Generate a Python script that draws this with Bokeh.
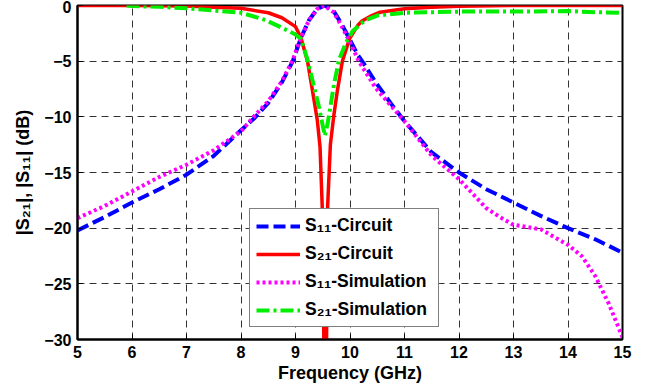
from bokeh.plotting import figure
from bokeh.embed import file_html
from bokeh.resources import INLINE
from bokeh.models import FixedTicker, Legend

# ---- data ----
f_s11c = [5.0, 5.5, 6.0, 6.5, 7.0, 7.5, 8.0, 8.25, 8.5, 8.75, 8.95, 9.1, 9.25, 9.4, 9.54,
          9.7, 9.85, 10.0, 10.15, 10.25, 10.47, 10.75, 11.0, 11.5, 12.0, 12.5, 13.0, 13.5,
          14.0, 14.5, 15.0]
s11_circuit = [-20.2, -19.0, -17.7, -16.5, -15.2, -13.5, -11.2, -10.1, -8.75, -6.9, -5.0, -2.9,
               -1.3, -0.3, 0.0, -0.5, -1.7, -3.1, -4.5, -5.2, -6.9, -8.8, -10.4, -13.2, -15.0,
               -16.5, -17.7, -18.9, -20.0, -21.0, -22.2]

f_s21c = [5.0, 6.0, 7.0, 7.5, 8.0, 8.5, 8.75, 9.0, 9.1, 9.22, 9.31, 9.4, 9.45, 9.49, 9.52,
          9.545, 9.57, 9.59, 9.64, 9.7, 9.77, 9.86, 9.99, 10.14, 10.22, 10.4, 10.55, 11.0,
          11.5, 12.0, 13.0, 15.0]
s21_circuit = [0.0, 0.0, -0.05, -0.15, -0.25, -0.65, -1.1, -1.9, -2.9, -5.0, -7.6, -10.3,
               -12.7, -18.0, -30.0, -45.0, -30.0, -18.0, -12.5, -10.0, -7.6, -5.0, -3.0, -1.8,
               -1.4, -0.9, -0.6, -0.3, -0.15, -0.06, 0.0, 0.0]

f_s11s = [5.0, 5.5, 6.0, 6.5, 7.0, 7.5, 8.0, 8.25, 8.5, 8.75, 8.95, 9.1, 9.25, 9.4, 9.52,
          9.7, 9.85, 10.0, 10.16, 10.47, 10.75, 11.0, 11.5, 12.0, 12.5, 12.75, 13.0, 13.5,
          14.0, 14.25, 14.5, 14.75, 15.0]
s11_sim = [-19.1, -18.0, -16.7, -15.4, -14.3, -13.0, -11.3, -9.9, -8.6, -6.8, -4.9, -2.9,
           -1.3, -0.3, 0.0, -0.6, -1.9, -3.3, -5.0, -7.4, -9.0, -10.4, -13.5, -15.6, -18.2,
           -19.0, -19.7, -20.1, -21.5, -22.5, -24.3, -26.8, -29.8]

f_s21s = [5.9, 6.0, 6.5, 7.0, 7.5, 8.0, 8.45, 8.75, 9.0, 9.1, 9.22, 9.34, 9.43, 9.5, 9.54,
          9.59, 9.65, 9.71, 9.8, 9.93, 10.05, 10.27, 10.5, 11.0, 12.0, 13.0, 14.0, 14.5, 15.0]
s21_sim = [0.0, -0.05, -0.12, -0.25, -0.45, -0.65, -1.3, -2.0, -2.6, -3.0, -4.85, -7.3,
           -9.1, -10.8, -11.7, -10.6, -8.8, -7.0, -4.85, -3.3, -2.3, -1.35, -0.9, -0.65,
           -0.55, -0.55, -0.5, -0.6, -0.65]

x_ticks = [5, 6, 7, 8, 9, 10, 11, 12, 13, 14, 15]
y_ticks = [-30, -25, -20, -15, -10, -5, 0]

FONT = "Liberation Sans"

p = figure(width=646, height=388, x_range=(5, 15), y_range=(-30, 0),
           output_backend="svg", toolbar_location=None,
           min_border_left=77, min_border_right=24, min_border_top=5, min_border_bottom=49)

p.outline_line_color = "black"
p.outline_line_width = 2
p.background_fill_color = "white"

for ax in (p.xaxis[0], p.yaxis[0]):
    ax.axis_line_width = 2
    ax.axis_line_color = "black"
    ax.major_tick_in = 5
    ax.major_tick_out = 0
    ax.major_tick_line_width = 1
    ax.minor_tick_line_color = None
    ax.major_label_text_font = FONT
    ax.major_label_text_font_style = "bold"
    ax.major_label_text_font_size = "16px"
    ax.major_label_text_color = "black"
    ax.axis_label_text_font = FONT
    ax.axis_label_text_font_style = "bold"
    ax.axis_label_text_font_size = "18px"
    ax.axis_label_text_color = "black"

p.xaxis[0].ticker = FixedTicker(ticks=x_ticks)
p.yaxis[0].ticker = FixedTicker(ticks=y_ticks)
p.xaxis[0].axis_label = "Frequency (GHz)"
p.yaxis[0].axis_label = "|S₂₁|, |S₁₁| (dB)"
p.xaxis[0].major_label_standoff = 6
p.xaxis[0].axis_label_standoff = 2
p.yaxis[0].major_label_standoff = 6
p.yaxis[0].axis_label_standoff = 8

for g in (p.xgrid[0], p.ygrid[0]):
    g.grid_line_color = "#333333"
    g.grid_line_width = 1
    g.grid_line_dash = "7 5"

r1 = p.line(f_s11c, s11_circuit, line_color="#0000ff", line_width=4, line_dash="12 5")
r2 = p.line(f_s21c, s21_circuit, line_color="#ff0000", line_width=3.5)
r3 = p.line(f_s11s, s11_sim, line_color="#ff00ff", line_width=4, line_dash="3 3")
r4 = p.line(f_s21s, s21_sim, line_color="#00ee00", line_width=4, line_dash="13 4 3 4")

legend = Legend(items=[("S₁₁-Circuit", [r1]), ("S₂₁-Circuit", [r2]),
                       ("S₁₁-Simulation", [r3]), ("S₂₁-Simulation", [r4])],
                location=(172, 12))
legend.label_text_font = FONT
legend.label_text_font_style = "bold"
legend.label_text_font_size = "17.5px"
legend.label_text_color = "black"
legend.glyph_width = 44
legend.glyph_height = 18
legend.label_height = 18
legend.label_width = 127
legend.label_standoff = 5
legend.spacing = 7
legend.padding = 6
legend.margin = 0
legend.border_line_color = "black"
legend.border_line_width = 1.5
legend.background_fill_alpha = 1
p.add_layout(legend, "center")

open("out.html", "w").write(file_html(p, INLINE))
